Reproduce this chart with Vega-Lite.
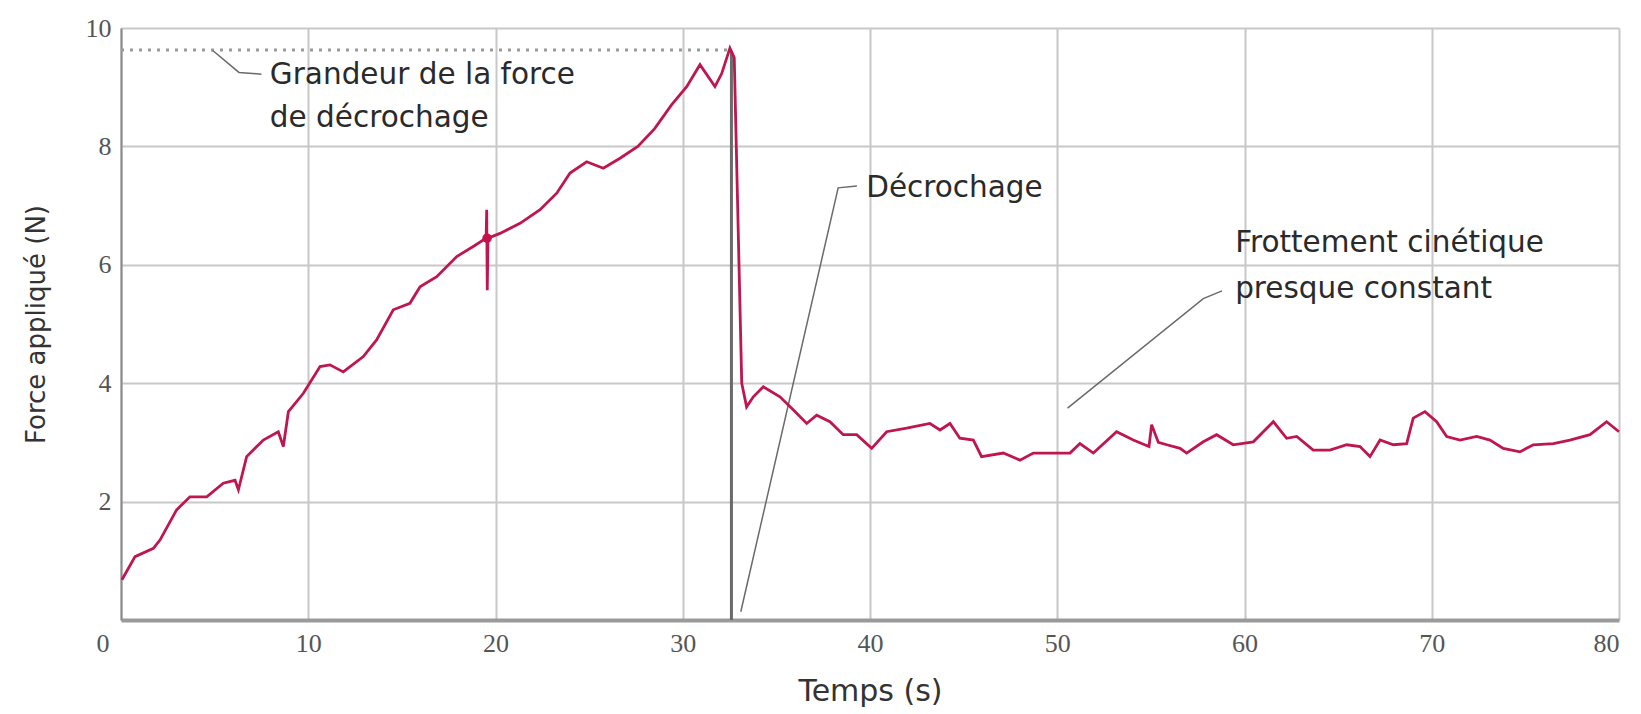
{
  "$schema": "https://vega.github.io/schema/vega-lite/v6.json",
  "width": 1498,
  "height": 592,
  "autosize": {"type": "none"},
  "padding": {"left": 121, "top": 28, "right": 22, "bottom": 94},
  "background": "white",
  "config": {"view": {"stroke": null}},
  "datasets": {
    "curve": [
      {"t": 0.05, "F": 0.68}, {"t": 0.75, "F": 1.07}, {"t": 1.73, "F": 1.21}, {"t": 2.08, "F": 1.35},
      {"t": 2.97, "F": 1.86}, {"t": 3.68, "F": 2.08}, {"t": 4.58, "F": 2.08}, {"t": 5.46, "F": 2.31},
      {"t": 6.09, "F": 2.36}, {"t": 6.27, "F": 2.2}, {"t": 6.71, "F": 2.76}, {"t": 7.6, "F": 3.04},
      {"t": 8.4, "F": 3.18}, {"t": 8.67, "F": 2.93}, {"t": 8.94, "F": 3.52}, {"t": 9.74, "F": 3.83},
      {"t": 10.63, "F": 4.28}, {"t": 11.16, "F": 4.31}, {"t": 11.87, "F": 4.19}, {"t": 12.94, "F": 4.45},
      {"t": 13.65, "F": 4.73}, {"t": 14.54, "F": 5.24}, {"t": 15.43, "F": 5.35}, {"t": 15.97, "F": 5.63},
      {"t": 16.86, "F": 5.8}, {"t": 17.93, "F": 6.14}, {"t": 18.81, "F": 6.31}, {"t": 19.5, "F": 6.45},
      {"t": 19.53, "F": 6.93}, {"t": 19.56, "F": 5.57}, {"t": 19.6, "F": 6.45}, {"t": 20.24, "F": 6.53},
      {"t": 21.31, "F": 6.7}, {"t": 22.38, "F": 6.93}, {"t": 23.27, "F": 7.21}, {"t": 23.98, "F": 7.55},
      {"t": 24.87, "F": 7.74}, {"t": 25.76, "F": 7.63}, {"t": 26.65, "F": 7.8}, {"t": 27.6, "F": 8.0},
      {"t": 28.5, "F": 8.3}, {"t": 29.4, "F": 8.7}, {"t": 30.21, "F": 9.01}, {"t": 30.92, "F": 9.38},
      {"t": 31.72, "F": 9.01}, {"t": 32.08, "F": 9.23}, {"t": 32.52, "F": 9.66}, {"t": 32.75, "F": 9.5},
      {"t": 33.15, "F": 4.0}, {"t": 33.41, "F": 3.6}, {"t": 33.77, "F": 3.77}, {"t": 34.3, "F": 3.94},
      {"t": 35.19, "F": 3.77}, {"t": 35.9, "F": 3.55}, {"t": 36.62, "F": 3.32}, {"t": 37.15, "F": 3.46},
      {"t": 37.86, "F": 3.35}, {"t": 38.57, "F": 3.13}, {"t": 39.29, "F": 3.13}, {"t": 40.09, "F": 2.9},
      {"t": 40.89, "F": 3.18}, {"t": 41.96, "F": 3.24}, {"t": 43.2, "F": 3.32}, {"t": 43.74, "F": 3.21},
      {"t": 44.27, "F": 3.32}, {"t": 44.8, "F": 3.07}, {"t": 45.52, "F": 3.04}, {"t": 45.96, "F": 2.76},
      {"t": 47.12, "F": 2.82}, {"t": 48.01, "F": 2.7}, {"t": 48.72, "F": 2.82}, {"t": 49.79, "F": 2.82},
      {"t": 50.68, "F": 2.82}, {"t": 51.21, "F": 2.98}, {"t": 51.93, "F": 2.82}, {"t": 53.17, "F": 3.18},
      {"t": 54.06, "F": 3.04}, {"t": 54.9, "F": 2.93}, {"t": 55.04, "F": 3.3}, {"t": 55.4, "F": 3.0},
      {"t": 55.85, "F": 2.96}, {"t": 56.56, "F": 2.9}, {"t": 56.91, "F": 2.82}, {"t": 57.8, "F": 3.01},
      {"t": 58.51, "F": 3.13}, {"t": 59.4, "F": 2.96}, {"t": 60.47, "F": 3.01}, {"t": 61.54, "F": 3.35},
      {"t": 62.25, "F": 3.07}, {"t": 62.79, "F": 3.1}, {"t": 63.67, "F": 2.87}, {"t": 64.56, "F": 2.87},
      {"t": 65.46, "F": 2.96}, {"t": 66.17, "F": 2.93}, {"t": 66.7, "F": 2.76}, {"t": 67.24, "F": 3.04},
      {"t": 67.95, "F": 2.96}, {"t": 68.66, "F": 2.98}, {"t": 69.01, "F": 3.41}, {"t": 69.64, "F": 3.52},
      {"t": 70.26, "F": 3.35}, {"t": 70.8, "F": 3.1}, {"t": 71.51, "F": 3.04}, {"t": 72.4, "F": 3.1},
      {"t": 73.11, "F": 3.04}, {"t": 73.82, "F": 2.9}, {"t": 74.71, "F": 2.84}, {"t": 75.42, "F": 2.96},
      {"t": 76.5, "F": 2.98}, {"t": 77.38, "F": 3.04}, {"t": 78.45, "F": 3.13}, {"t": 79.34, "F": 3.35},
      {"t": 80.0, "F": 3.18}
    ],
    "dotted": [{"t": 0, "F": 9.63}, {"t": 32.4, "F": 9.63}],
    "stall": [{"t": 32.6, "F": 0, "F2": 9.6}],
    "blob": [{"t": 19.55, "F": 6.45}],
    "leaders": [
      {"g": "a", "o": 1, "t": 4.9, "F": 9.62}, {"g": "a", "o": 2, "t": 6.3, "F": 9.25}, {"g": "a", "o": 3, "t": 7.5, "F": 9.22},
      {"g": "b", "o": 1, "t": 39.3, "F": 7.33}, {"g": "b", "o": 2, "t": 38.3, "F": 7.3}, {"g": "b", "o": 3, "t": 33.1, "F": 0.14},
      {"g": "c", "o": 1, "t": 58.8, "F": 5.56}, {"g": "c", "o": 2, "t": 57.8, "F": 5.43}, {"g": "c", "o": 3, "t": 50.55, "F": 3.58}
    ],
    "labels": [
      {"t": 7.95, "F": 9.2, "txt": "Grandeur de la force"},
      {"t": 7.95, "F": 8.48, "txt": "de décrochage"},
      {"t": 39.8, "F": 7.3, "txt": "Décrochage"},
      {"t": 59.5, "F": 6.37, "txt": "Frottement cinétique"},
      {"t": 59.5, "F": 5.59, "txt": "presque constant"}
    ]
  },
  "encoding": {
    "x": {"field": "t", "type": "quantitative", "scale": {"domain": [0, 80], "nice": false},
      "axis": {"values": [0, 10, 20, 30, 40, 50, 60, 70, 80], "grid": true, "gridColor": "#c8c8c8", "gridWidth": 2,
        "domainColor": "#9a9a9a", "domainWidth": 4, "ticks": false, "labelFont": "Liberation Serif", "labelFontSize": 26,
        "labelColor": "#555555", "labelPadding": 10,
        "labelOffset": {"condition": {"test": "datum.value == 0", "value": -25}, "value": 0},
        "title": "Temps (s)", "titleFont": "DejaVu Sans", "titleFontSize": 30,
        "titleColor": "#333333", "titleFontWeight": "normal", "titlePadding": 20}},
    "y": {"field": "F", "type": "quantitative", "scale": {"domain": [0, 10], "nice": false},
      "axis": {"values": [2, 4, 6, 8, 10], "grid": true, "gridColor": "#c8c8c8", "gridWidth": 2,
        "domainColor": "#8a8a8a", "domainWidth": 2, "ticks": false, "labelFont": "Liberation Serif", "labelFontSize": 26,
        "labelColor": "#555555", "labelPadding": 10, "title": "Force appliqué (N)", "titleFont": "DejaVu Sans", "titleFontSize": 26,
        "titleColor": "#333333", "titleFontWeight": "normal", "titlePadding": 36}}
  },
  "layer": [
    {
      "data": {"name": "dotted"},
      "mark": {"type": "line", "color": "#9a9a9a", "strokeWidth": 3, "strokeDash": [3, 6]}
    },
    {
      "data": {"name": "stall"},
      "mark": {"type": "rule", "color": "#6a6a6a", "strokeWidth": 3},
      "encoding": {"y2": {"field": "F2"}}
    },
    {
      "data": {"name": "leaders"},
      "mark": {"type": "line", "color": "#6a6a6a", "strokeWidth": 1.5},
      "encoding": {"detail": {"field": "g"}, "order": {"field": "o"}}
    },
    {
      "data": {"name": "curve"},
      "mark": {"type": "line", "color": "#bf1650", "strokeWidth": 2.8}
    },
    {
      "data": {"name": "blob"},
      "mark": {"type": "point", "filled": true, "color": "#c8104a", "size": 90, "opacity": 1}
    },
    {
      "data": {"name": "labels"},
      "mark": {"type": "text", "align": "left", "baseline": "middle", "font": "DejaVu Sans", "fontSize": 29.5, "color": "#2a2a2a"},
      "encoding": {"text": {"field": "txt"}}
    }
  ]
}
